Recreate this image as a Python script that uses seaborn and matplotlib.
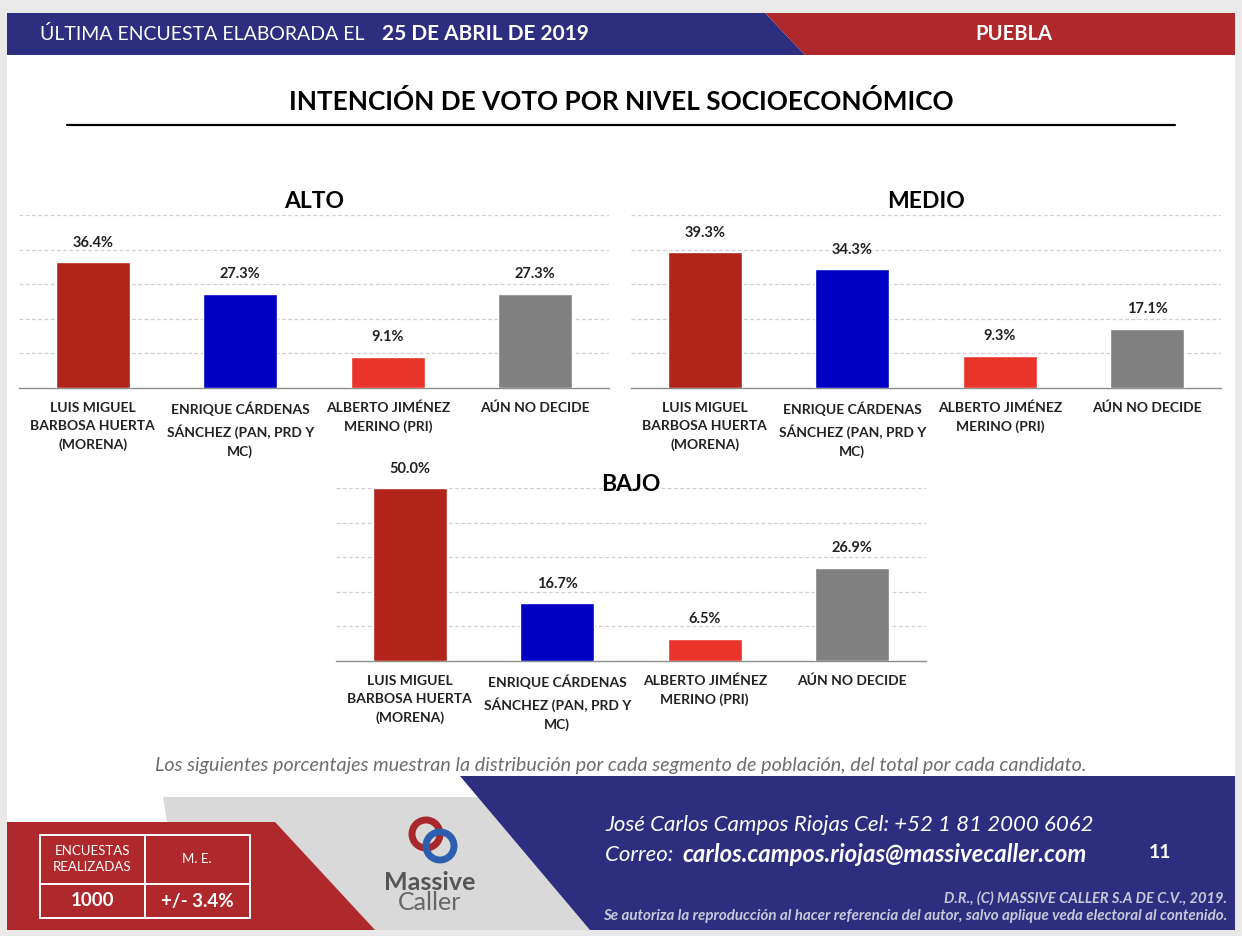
import numpy as np
import pandas as pd
import matplotlib
matplotlib.use('Agg')
import matplotlib.pyplot as plt
from matplotlib.patches import Polygon, Ellipse
import seaborn as sns

# ------------------------------------------------------------------
# datos
# ------------------------------------------------------------------
CANDIDATOS = [
    'LUIS MIGUEL\nBARBOSA HUERTA\n(MORENA)',
    'ENRIQUE CÁRDENAS\nSÁNCHEZ (PAN, PRD Y\nMC)',
    'ALBERTO JIMÉNEZ\nMERINO (PRI)',
    'AÚN NO DECIDE',
]
COLORES = ['#B2231A', '#0000C4', '#E8342A', '#808080']

ALTO = [36.4, 27.3, 9.1, 27.3]
MEDIO = [39.3, 34.3, 9.3, 17.1]
BAJO = [50.0, 16.7, 6.5, 26.9]

NIVELES = ['ALTO', 'MEDIO', 'BAJO']
VALORES = [ALTO, MEDIO, BAJO]

NAVY = '#2D2E80'
RED = '#AE282C'

sns.set_style('white')
plt.rcParams['font.family'] = ['Lato', 'DejaVu Sans']

W, H = 1242, 936
fig = plt.figure(figsize=(W / 100, H / 100), dpi=100)
fig.patch.set_facecolor('#E9E9E9')


def px(x, y):
    return (x / W, 1 - y / H)


def poly(points, color, z=0):
    fig.patches.append(Polygon([px(*p) for p in points], closed=True,
                               transform=fig.transFigure, facecolor=color,
                               edgecolor='none', zorder=z))


# pagina blanca
poly([(7, 13), (1235, 13), (1235, 930), (7, 930)], 'white', -5)

# encabezado
poly([(7, 13), (765, 13), (805, 55), (7, 55)], NAVY, 1)
poly([(765, 13), (1235, 13), (1235, 55), (805, 55)], RED, 1)
fig.text(40 / W, 1 - 34 / H, 'ÚLTIMA ENCUESTA ELABORADA EL', color='white',
         fontsize=14, va='center', ha='left')
fig.text(382 / W, 1 - 34 / H, '25 DE ABRIL DE 2019', color='white',
         fontsize=15, fontweight='bold', va='center', ha='left')
fig.text(1014 / W, 1 - 34 / H, 'PUEBLA', color='white', fontsize=14.5,
         fontweight='bold', va='center', ha='center')

# titulo
fig.text(621 / W, 1 - 102 / H, 'INTENCIÓN DE VOTO POR NIVEL SOCIOECONÓMICO',
         fontsize=18.8, fontweight='bold', ha='center', va='center', color='black')
fig.add_artist(plt.Line2D([67 / W, 1175 / W], [1 - 125 / H, 1 - 125 / H],
                          color='black', lw=1.6, transform=fig.transFigure))

# ------------------------------------------------------------------
# graficas de barras
# ------------------------------------------------------------------
# (izquierda, linea base, titulo y) en pixeles
POSICIONES = [(19, 388, 201), (631, 388, 201), (336, 661, 484)]
ANCHO, ALTURA = 590, 173

for nivel, valores, (x0, base, ty) in zip(NIVELES, VALORES, POSICIONES):
    ax = fig.add_axes([x0 / W, 1 - base / H, ANCHO / W, ALTURA / H])
    df = pd.DataFrame({'candidato': CANDIDATOS, 'pct': valores})
    sns.barplot(data=df, x='candidato', y='pct', hue='candidato',
                palette=COLORES, width=0.5, legend=False, ax=ax,
                saturation=1, zorder=3)
    ax.set_ylim(0, 50)
    ax.set_xlim(-0.5, 3.5)
    ax.set_yticks(np.arange(10, 51, 10))
    ax.set_yticklabels([])
    ax.yaxis.grid(True, color='#CFCFCF', linestyle=(0, (3, 2)), lw=0.9)
    ax.set_axisbelow(True)
    for s in ['top', 'right', 'left']:
        ax.spines[s].set_visible(False)
    ax.spines['bottom'].set_color('#8C8C8C')
    ax.spines['bottom'].set_linewidth(1.0)
    ax.patch.set_alpha(0)
    ax.set_xlabel('')
    ax.set_ylabel('')
    ax.tick_params(axis='y', length=0)
    ax.tick_params(axis='x', which='major', length=0, pad=10)
    ax.set_xticks(np.arange(-0.5, 3.6, 1), minor=True)
    ax.tick_params(axis='x', which='minor', length=6, color='#8C8C8C', width=1)
    for lab in ax.get_xticklabels():
        lab.set_fontsize(10)
        lab.set_fontweight('bold')
        lab.set_color('#222222')
        lab.set_linespacing(1.6)
        lab.set_va('top')
    for i, v in enumerate(valores):
        ax.annotate(f'{v:.1f}%', (i, v), xytext=(0, 9), textcoords='offset points',
                    ha='center', va='bottom', fontsize=10.5, fontweight='bold',
                    color='#222222')
    fig.text((x0 + ANCHO / 2) / W, 1 - ty / H, nivel, fontsize=16.5,
             fontweight='bold', ha='center', va='center', color='black', zorder=5)

# nota
fig.text(621 / W, 1 - 765 / H,
         'Los siguientes porcentajes muestran la distribución por cada segmento de '
         'población, del total por cada candidato.',
         fontsize=14.2, style='italic', color='#6E6E6E', ha='center', va='center')

# ------------------------------------------------------------------
# pie de pagina
# ------------------------------------------------------------------
poly([(163, 797), (480, 797), (600, 930), (185, 930)], '#D9D9D9', 1)
poly([(460, 776), (1235, 776), (1235, 930), (590, 930)], NAVY, 2)
poly([(7, 822), (275, 822), (375, 930), (7, 930)], RED, 2)

# tabla
for (a, b) in [((40, 835), (250, 835)), ((40, 918), (250, 918)),
               ((40, 835), (40, 918)), ((250, 835), (250, 918)),
               ((145, 835), (145, 918)), ((40, 884), (250, 884))]:
    fig.add_artist(plt.Line2D([a[0] / W, b[0] / W], [1 - a[1] / H, 1 - b[1] / H],
                              color='white', lw=1.4, transform=fig.transFigure,
                              zorder=4))
fig.text(92 / W, 1 - 859 / H, 'ENCUESTAS\nREALIZADAS', color='white', fontsize=9.5,
         ha='center', va='center', linespacing=1.4, zorder=5)
fig.text(197 / W, 1 - 859 / H, 'M. E.', color='white', fontsize=9.5,
         ha='center', va='center', zorder=5)
fig.text(92 / W, 1 - 901 / H, '1000', color='white', fontsize=13.5,
         fontweight='bold', ha='center', va='center', zorder=5)
fig.text(197 / W, 1 - 901 / H, '+/- 3.4%', color='white', fontsize=13.5,
         fontweight='bold', ha='center', va='center', zorder=5)

# logo
for cx, cy, col in [(426, 834, '#A8282C'), (440, 846, '#2D5FB0')]:
    fig.patches.append(Ellipse(px(cx, cy), 28 / W, 28 / H, transform=fig.transFigure,
                               facecolor='none', edgecolor=col, lw=5, zorder=5))
fig.text(430 / W, 1 - 882 / H, 'Massive', color='#555555', fontsize=18,
         fontweight='bold', ha='center', va='center', zorder=5)
fig.text(430 / W, 1 - 903 / H, 'Caller', color='#666666', fontsize=18,
         ha='center', va='center', zorder=5)

# contacto
fig.text(605 / W, 1 - 825 / H, 'José Carlos Campos Riojas Cel: +52 1 81 2000 6062',
         color='white', fontsize=16, style='italic',
         ha='left', va='center', zorder=5)
fig.text(605 / W, 1 - 855 / H, 'Correo: ', color='white', fontsize=16,
         style='italic', ha='left', va='center', zorder=5)
fig.text(682 / W, 1 - 855 / H, 'carlos.campos.riojas@massivecaller.com',
         color='white', fontsize=17.2, style='italic', fontweight='bold',
         ha='left', va='center', zorder=5)
fig.text(1160 / W, 1 - 853 / H, '11', color='white', fontsize=14,
         fontweight='bold', ha='center', va='center', zorder=5)
fig.text(1227 / W, 1 - 898 / H, 'D.R., (C) MASSIVE CALLER S.A DE C.V., 2019.',
         color='#C8C8D8', fontsize=10.5, style='italic', fontweight='bold',
         ha='right', va='center', zorder=5)
fig.text(1227 / W, 1 - 916 / H,
         'Se autoriza la reproducción al hacer referencia del autor, salvo aplique '
         'veda electoral al contenido.',
         color='#C8C8D8', fontsize=10.9, style='italic', fontweight='bold',
         ha='right', va='center', zorder=5)

fig.savefig('out.png', dpi=100, facecolor=fig.get_facecolor())
